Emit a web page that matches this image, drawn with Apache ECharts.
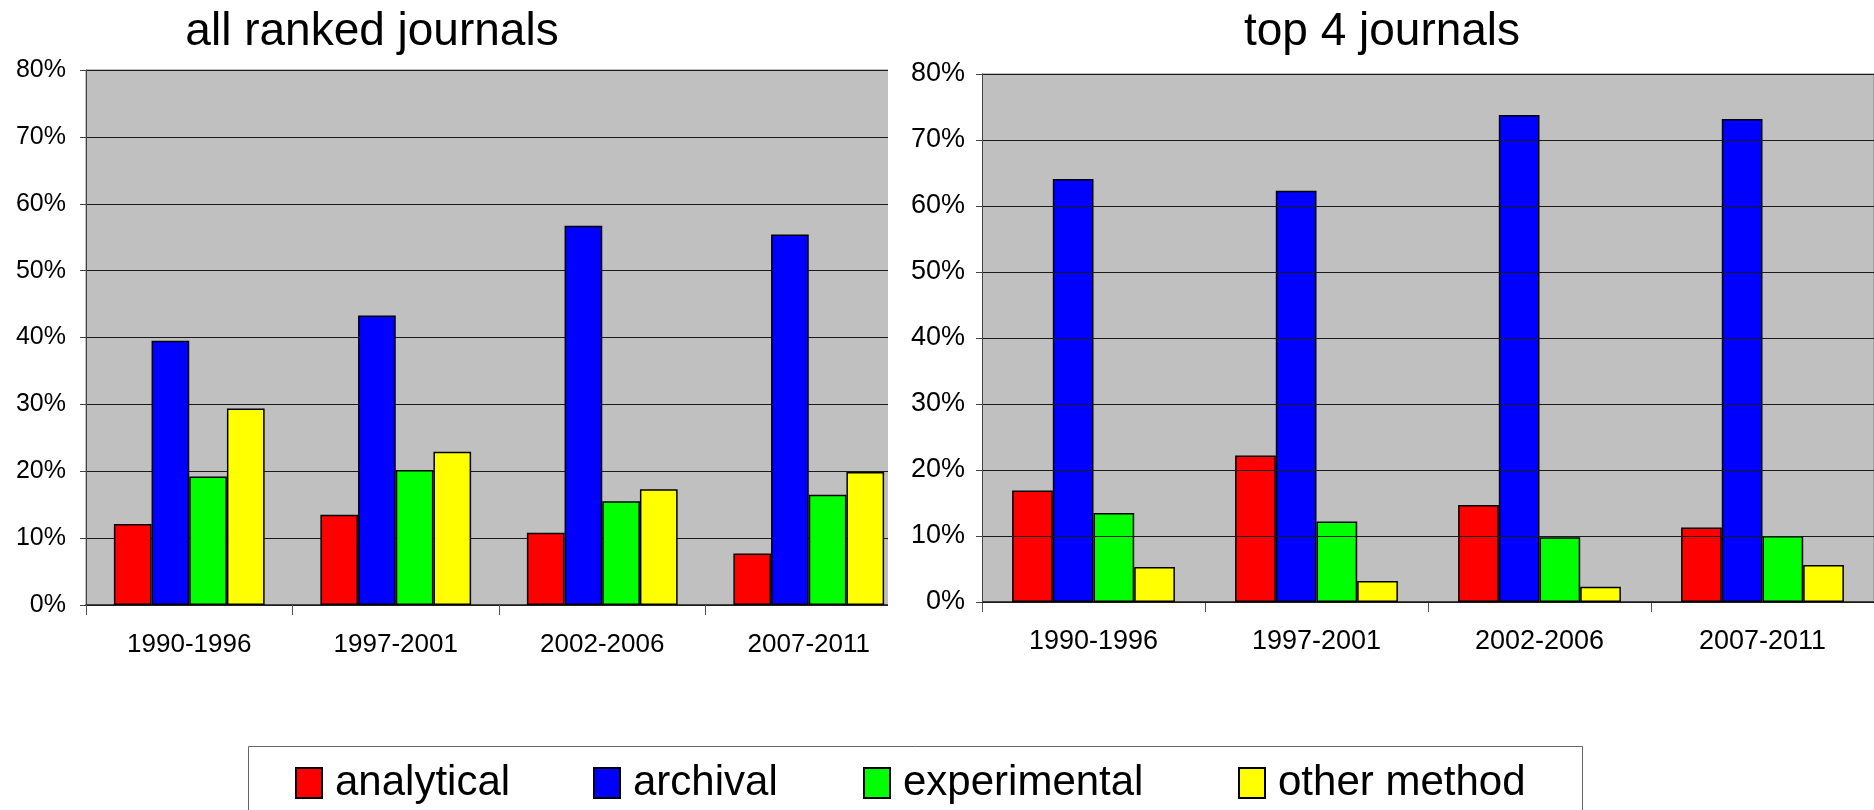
<!DOCTYPE html>
<html>
<head>
<meta charset="utf-8">
<title>research methods</title>
<script src="https://cdn.jsdelivr.net/npm/echarts/dist/echarts.min.js"></script>
<style>
  html, body { margin: 0; padding: 0; background: #fff; }
  #main { width: 1874px; height: 810px; }
</style>
</head>
<body>
<div id="main"></div>
<script>
// periods on the x axis
var periods = ['1990-1996', '1997-2001', '2002-2006', '2007-2011']
var methods = ['analytical', 'archival', 'experimental', 'other method']
var colors = ['#ff0000', '#0000ff', '#00ff00', '#ffff00']

// all ranked journals, percent
var allAnalytical = [12.1, 13.5, 10.8, 7.7]
var allArchival = [39.5, 43.3, 56.7, 55.4]
var allExperimental = [19.2, 20.2, 15.5, 16.5]
var allOther = [29.4, 22.9, 17.3, 19.9]

// top 4 journals, percent
var topAnalytical = [16.9, 22.2, 14.7, 11.3]
var topArchival = [64.1, 62.3, 73.8, 73.2]
var topExperimental = [13.5, 12.2, 9.8, 10.0]
var topOther = [5.3, 3.2, 2.3, 5.6]

var font = "'Liberation Sans', Arial, sans-serif"

function yAxisFor (idx, size, margin) {
  return {
    type: 'value',
    gridIndex: idx,
    min: 0,
    max: 80,
    interval: 10,
    z: idx === 1 ? 100 : 0,
    axisLine: { show: true, lineStyle: { color: '#444', width: 1 } },
    axisTick: { show: true, length: 6, lineStyle: { color: '#444' } },
    axisLabel: { formatter: '{value}%', color: '#000', fontSize: size, fontFamily: font, margin: margin },
    splitLine: { show: true, lineStyle: { color: '#1a1a1a', width: 1 } }
  }
}

function xAxisFor (idx, size, margin) {
  return {
    type: 'category',
    gridIndex: idx,
    data: periods,
    axisLine: { show: true, lineStyle: { color: '#222', width: 1.5 } },
    axisTick: { show: true, length: 10, interval: 0, lineStyle: { color: '#555' } },
    axisLabel: { color: '#000', fontSize: size, fontFamily: font, margin: margin, interval: 0 },
    splitLine: { show: false }
  }
}

function barsFor (idx, lists) {
  return lists.map(function (vals, i) {
    return {
      name: methods[i],
      type: 'bar',
      xAxisIndex: idx,
      yAxisIndex: idx,
      barGap: '0%',
      barCategoryGap: '27%',
      itemStyle: { color: colors[i], borderColor: '#000', borderWidth: 1.5 },
      data: vals
    }
  })
}

var legendLeft = [290, 588, 858, 1233]

var myChart = echarts.init(document.getElementById('main'))
myChart.setOption({
  animation: false,
  backgroundColor: '#fff',
  title: [
    { text: 'all ranked journals', left: 367, top: 4, textAlign: 'center',
      textStyle: { fontSize: 46, fontWeight: 'normal', color: '#000', fontFamily: font } },
    { text: 'top 4 journals', left: 1377, top: 4, textAlign: 'center',
      textStyle: { fontSize: 46, fontWeight: 'normal', color: '#000', fontFamily: font } }
  ],
  legend: methods.map(function (m, i) {
    return {
      data: [m],
      left: legendLeft[i],
      top: 757,
      icon: 'rect',
      itemWidth: 26,
      itemHeight: 30,
      selectedMode: false,
      textStyle: { fontSize: 42, color: '#000', fontFamily: font, padding: [0, 0, 0, 8] }
    }
  }),
  grid: [
    { left: 86, top: 70, width: 826, height: 535, show: true, backgroundColor: '#c0c0c0',
      borderColor: '#808080', borderWidth: 1, outerBoundsMode: 'none' },
    { left: 982, top: 74, width: 892, height: 528, show: true, backgroundColor: '#c0c0c0',
      borderColor: '#808080', borderWidth: 1, outerBoundsMode: 'none' }
  ],
  xAxis: [xAxisFor(0, 26, 27), xAxisFor(1, 27, 26)],
  yAxis: [yAxisFor(0, 25, 20), yAxisFor(1, 27, 17)],
  graphic: [
    // right chart sits over the end of the left one
    { type: 'rect', z: 50, shape: { x: 888, y: 55, width: 94, height: 575 }, style: { fill: '#fff' } },
    { type: 'rect', z: 1, shape: { x: 248.5, y: 746.5, width: 1334, height: 100 },
      style: { fill: 'transparent', stroke: '#666', lineWidth: 1 } }
  ],
  series: barsFor(0, [allAnalytical, allArchival, allExperimental, allOther])
    .concat(barsFor(1, [topAnalytical, topArchival, topExperimental, topOther]))
})
</script>
</body>
</html>
